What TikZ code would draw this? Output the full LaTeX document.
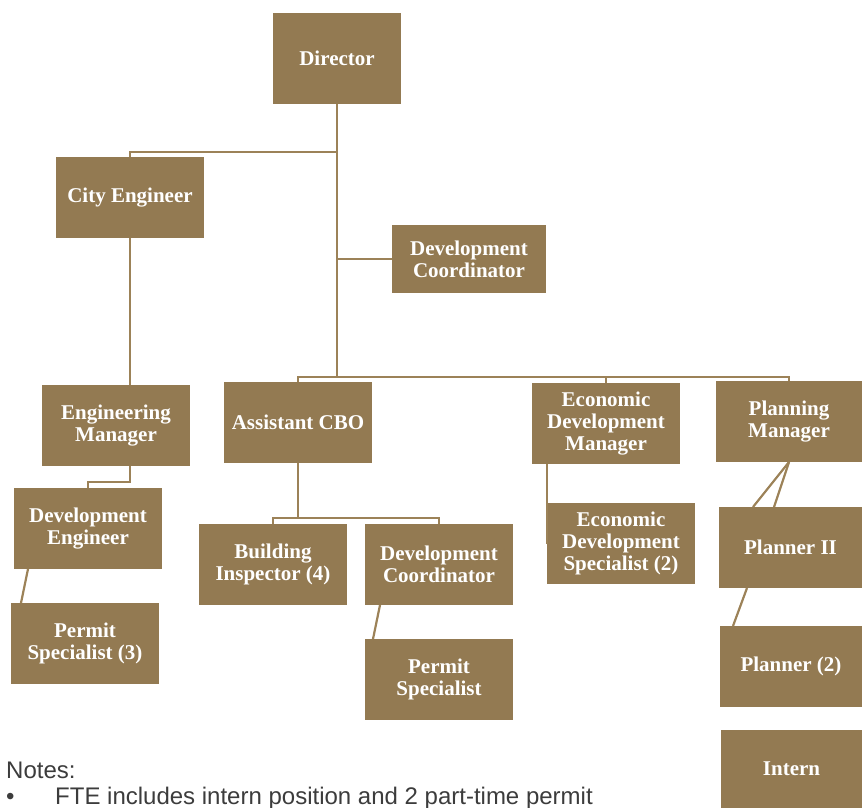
\documentclass[tikz,border=0pt]{standalone}
\usepackage{fontspec}
\setmainfont{Liberation Serif}
\newfontfamily\notefont{Liberation Sans}
\usetikzlibrary{positioning,calc}
\definecolor{boxbrown}{HTML}{937A52}
\definecolor{linkbrown}{HTML}{9C8258}
\definecolor{notegray}{HTML}{3C3C3C}
\tikzset{
  role/.style={fill=boxbrown, text=white, font=\bfseries\fontsize{21}{22}\selectfont,
    align=center, inner sep=0pt, outer sep=0pt, minimum width=148pt, minimum height=81pt},
  link/.style={draw=linkbrown, line width=2.2pt},
  note/.style={font=\notefont\fontsize{24}{26}\selectfont, text=notegray, anchor=base west, inner sep=0pt}
}

\begin{document}
\begin{tikzpicture}[x=1pt,y=-1pt]
\useasboundingbox (0,0) rectangle (862,808);
% Top level
\node[role, minimum width=128pt, minimum height=91pt] (dir) at (337,58.5) {Director};
\node[role] (ce) at (130,197.5) {City Engineer};
\node[role, minimum width=154pt, minimum height=68pt] (dc) at (469,259) {Development\\Coordinator};
% Managers
\node[role] (em) at (116,425.5) {Engineering\\Manager};
\node[role] (asst) at (298,422.5) {Assistant CBO};
\node[role] (edm) at (606,423.5) {Economic\\Development\\Manager};
\node[role, minimum width=146pt] (pm) at (789,421.5) {Planning\\Manager};
% Staff
\node[role] (de) at (88,528.5) {Development\\Engineer};
\node[role] (ps3) at (85,643.5) {Permit\\Specialist (3)};
\node[role] (bi) at (273,564.5) {Building\\Inspector (4)};
\node[role] (dc2) at (439,564.5) {Development\\Coordinator};
\node[role] (ps) at (439,679.5) {Permit\\Specialist};
\node[role] (eds) at (621,543.5) {Economic\\Development\\Specialist (2)};
\node[role, minimum width=143pt] (pl2) at (790.5,547.5) {Planner II};
\node[role, minimum width=142pt] (pl) at (791,666.5) {Planner (2)};
\node[role, minimum width=141pt, minimum height=78pt] (intern) at (791.5,769) {Intern};
% Director trunk and branches
\coordinate (bus) at (337,377);
\draw[link] (dir.south) -- (bus);
\draw[link] (dir.south |- 0,152) -| (ce.north);
\draw[link] (dir.south |- dc.west) -- (dc.west);
\draw[link] (asst.north) |- (bus) -| (pm.north);
\draw[link] (edm.north) -- (edm.north |- bus);
% Engineering side
\draw[link] (ce.south) -- (ce.south |- em.north);
\draw[link] (em.south -| ce.south) -- ++(0,16) -| (de.north);
\draw[link] ($(de.south west)+(14,0)$) -- ($(ps3.north west)+(10,0)$);
% Building side
\draw[link] (asst.south) -- ++(0,55) coordinate (j1);
\draw[link] (bi.north) |- (j1) -| (dc2.north);
\draw[link] ($(dc2.south west)+(15,0)$) -- ($(ps.north west)+(8,0)$);
% Economic development
\draw[link] (edm.south west -| eds.west) -- (eds.west);
% Planning
\draw[link] (pm.south) -- ($(pl2.north west)+(34,0)$);
\draw[link] (pm.south) -- ($(pl2.north west)+(55,0)$);
\draw[link] ($(pl2.south west)+(28,0)$) -- ($(pl.north west)+(13,0)$);
% Notes
\node[note] (notes) at (6,778) {Notes:};
\node[note] (fte) at (6,804) {\makebox[49pt][l]{•}FTE includes intern position and 2 part-time permit};
\end{tikzpicture}
\end{document}
